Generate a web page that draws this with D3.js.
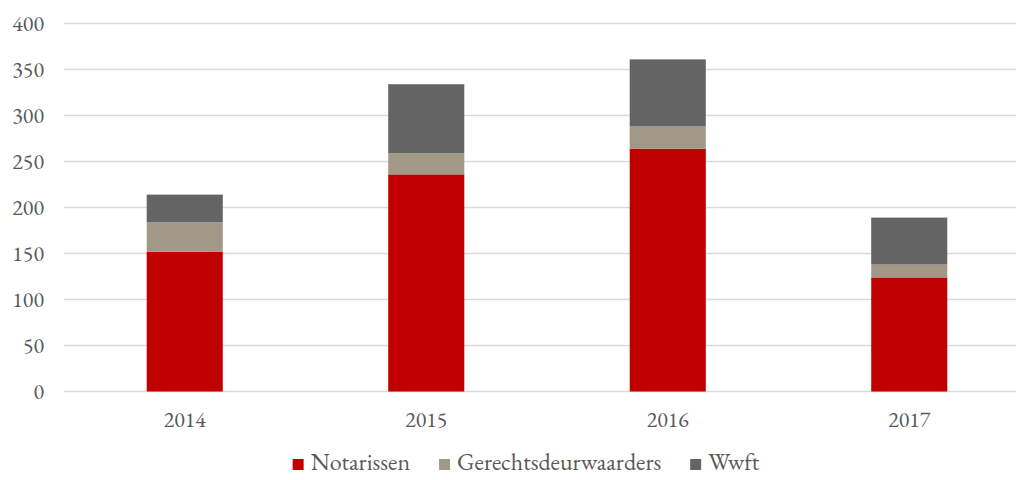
<!DOCTYPE html>
<html>
<head>
<meta charset="utf-8">
<script src="https://cdn.jsdelivr.net/npm/d3@7"></script>
<style>
  body { margin: 0; background: #fff; }
</style>
</head>
<body>
<div id="chart"></div>
<script>
var years = ["2014", "2015", "2016", "2017"]
var notarissen = [152, 236, 264, 124]
var gerechtsdeurwaarders = [32, 23, 24, 14]
var wwft = [30, 75, 73, 51]
var seriesNames = ["Notarissen", "Gerechtsdeurwaarders", "Wwft"]
var colors = ["#c00000", "#a19887", "#646464"]
var yTicks = [0, 50, 100, 150, 200, 250, 300, 350, 400]

var w = 1016
var h = 480
var font = "'EB Garamond', 'Liberation Serif', serif"

var svg = d3.select("#chart").append("svg").attr("width", w).attr("height", h)

// rows for the stack
var rows = years.map(function(y, i) {
    return { year: y, Notarissen: notarissen[i], Gerechtsdeurwaarders: gerechtsdeurwaarders[i], Wwft: wwft[i] }
})
var stacked = d3.stack().keys(seriesNames)(rows)

var x = d3.scaleBand().domain(years).range([64, 1030]).paddingInner(0.685).paddingOuter(0.3425)
var y = d3.scaleLinear().domain([0, 400]).range([391.5, 23.5])

// gridlines
svg.selectAll(".grid")
    .data(yTicks)
    .enter()
    .append("line")
    .attr("x1", 64)
    .attr("x2", w)
    .attr("y1", function(d) { return y(d) })
    .attr("y2", function(d) { return y(d) })
    .attr("stroke", "#d9d9d9")
    .attr("stroke-width", 1.3)

// y labels
svg.selectAll(".ylab")
    .data(yTicks)
    .enter()
    .append("text")
    .attr("x", 44)
    .attr("y", function(d) { return y(d) + 7 })
    .attr("text-anchor", "end")
    .attr("fill", "#595959")
    .style("font-family", font)
    .style("font-variant-numeric", "lining-nums")
    .style("font-size", "22px")
    .text(function(d) { return d })

// bars
svg.selectAll(".layer")
    .data(stacked)
    .enter()
    .append("g")
    .attr("fill", function(d, i) { return colors[i] })
    .selectAll("rect")
    .data(function(d) { return d })
    .enter()
    .append("rect")
    .attr("x", function(d) { return x(d.data.year) })
    .attr("width", x.bandwidth())
    .attr("y", function(d) { return y(d[1]) })
    .attr("height", function(d) { return y(d[0]) - y(d[1]) })

// x labels
svg.selectAll(".xlab")
    .data(years)
    .enter()
    .append("text")
    .attr("x", function(d) { return x(d) + x.bandwidth() / 2 })
    .attr("y", 427)
    .attr("text-anchor", "middle")
    .attr("fill", "#595959")
    .style("font-family", font)
    .style("font-variant-numeric", "lining-nums")
    .style("font-size", "22px")
    .text(function(d) { return d })

// legend
var legend = svg.append("g")
var lx = 0
seriesNames.forEach(function(name, i) {
    legend.append("rect")
        .attr("x", lx)
        .attr("y", 459)
        .attr("width", 11)
        .attr("height", 11)
        .attr("fill", colors[i])
    var t = legend.append("text")
        .attr("x", lx + 18)
        .attr("y", 470)
        .attr("fill", "#595959")
        .style("font-family", font)
        .style("font-size", "24px")
        .text(name)
    lx += 18 + t.node().getComputedTextLength() + 29
})
var legendW = lx - 29
legend.attr("transform", "translate(" + (526 - legendW / 2) + ",0)")
</script>
</body>
</html>
